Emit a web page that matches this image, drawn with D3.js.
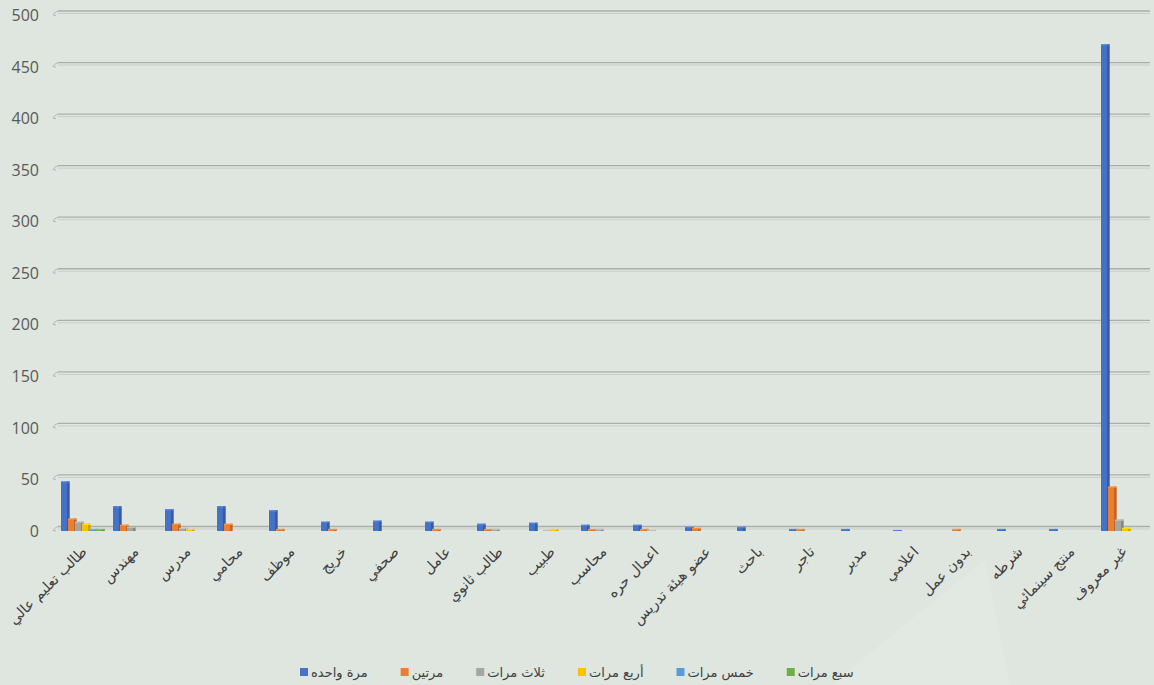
<!DOCTYPE html>
<html>
<head>
<meta charset="utf-8">
<script src="https://cdn.jsdelivr.net/npm/d3@7"></script>
<style>
  html, body { margin: 0; padding: 0; background: #dfe6e0; }
  svg { display: block; }
</style>
</head>
<body>
<svg id="chart" width="1154" height="685"></svg>
<script>
// Occupations (x axis)
const categories = [
  "طالب تعليم عالي", "مهندس", "مدرس", "محامي", "موظف", "خريج", "صحفي",
  "عامل", "طالب ثانوي", "طبيب", "محاسب", "اعمال حره", "عضو هيئة تدريس",
  "باحث", "تاجر", "مدير", "اعلامي", "بدون عمل", "شرطه", "منتج سينمائي", "غير معروف"
];

// Series names (legend)
const seriesNames = ["مرة واحده", "مرتين", "ثلاث مرات", "أربع مرات", "خمس مرات", "سبع مرات"];
const seriesColors = ["#4472c4", "#ed7d31", "#a5a5a5", "#ffc000", "#5b9bd5", "#70ad47"];

// Counts per series, one entry per occupation
const once   = [48, 24, 21, 24, 20, 9, 10, 9, 7, 8, 6, 6, 4, 4, 2, 2, 1, 0, 2, 2, 472];
const twice  = [12, 6, 7, 7, 2, 2, 0, 2, 2, 0, 2, 2, 3, 0, 2, 0, 0, 2, 0, 0, 43];
const three  = [9, 4, 3, 0, 0, 0, 0, 0, 2, 1, 2, 1, 0, 0, 0, 0, 0, 0, 0, 0, 11];
const four   = [7, 0, 2, 0, 0, 0, 0, 0, 0, 2, 0, 0, 0, 0, 0, 0, 0, 0, 0, 0, 3];
const five   = [2, 0, 0, 0, 0, 0, 0, 0, 0, 0, 0, 0, 0, 0, 0, 0, 0, 0, 0, 0, 0];
const seven  = [2, 0, 0, 0, 0, 0, 0, 0, 0, 0, 0, 0, 0, 0, 0, 0, 0, 0, 0, 0, 0];

const yTicks = [0, 50, 100, 150, 200, 250, 300, 350, 400, 450, 500];

const series = [once, twice, three, four, five, seven];

const svg = d3.select("#chart");
const W = 1154, H = 685;

svg.append("rect").attr("width", W).attr("height", H).attr("fill", "#dfe6e0");
// faint light patch in the lower right of the backdrop
svg.append("path")
  .attr("d", "M830,685 L985,560 L1010,685 Z")
  .attr("fill", "#e3e9e3").attr("opacity", 0.7);

const plotLeft = 56, plotRight = 1148;
const x = d3.scaleBand().domain(categories).range([plotLeft, plotRight])
  .paddingInner(10 / 52).paddingOuter(5 / 52);
const xs = d3.scaleBand().domain(d3.range(series.length)).range([0, x.bandwidth()]);
const y = d3.scaleLinear().domain([0, 500]).range([531, 15.5]);

const depth = 4.5; // back-wall offset for the gridlines

// gridlines (double line with small depth stroke at the left)
const grid = svg.append("g");
yTicks.forEach(v => {
  const gy = y(v) - depth;
  grid.append("line").attr("x1", 58).attr("x2", 1150).attr("y1", gy).attr("y2", gy)
    .attr("stroke", "#a9aeaa").attr("stroke-width", 1.3);
  grid.append("line").attr("x1", 58).attr("x2", 1150).attr("y1", gy + 2.5).attr("y2", gy + 2.5)
    .attr("stroke", "#c8cdc9").attr("stroke-width", 1);
  grid.append("path")
    .attr("d", `M58,${gy} L55,${gy + 1.5} L53,${gy + 4} L56,${gy + 4.5}`)
    .attr("fill", "none").attr("stroke", "#b3b8b4").attr("stroke-width", 1);
});

// y axis labels
const yAxis = d3.axisLeft(y).tickValues(yTicks).tickSize(0).tickPadding(0);
const yg = svg.append("g").attr("transform", "translate(39,0)").call(yAxis);
yg.select(".domain").remove();
yg.selectAll("text")
  .attr("font-family", "'Open Sans', 'Liberation Sans', sans-serif")
  .attr("font-size", 16).attr("fill", "#595959");

// bars
const bars = svg.append("g");
categories.forEach((c, ci) => {
  series.forEach((s, si) => {
    const v = s[ci];
    if (!v) return;
    const bx = x(c) + xs(si);
    const bw = xs.bandwidth() + 1.5;
    const top = y(v);
    const h = y(0) - top;
    const col = d3.color(seriesColors[si]);
    bars.append("rect").attr("x", bx).attr("y", top).attr("width", bw).attr("height", h)
      .attr("fill", col.formatHex());
    bars.append("rect").attr("x", bx + bw - 2.5).attr("y", top).attr("width", 2.5).attr("height", h)
      .attr("fill", col.darker(0.6).formatHex());
    bars.append("rect").attr("x", bx).attr("y", top).attr("width", bw).attr("height", Math.min(1.2, h))
      .attr("fill", col.brighter(0.4).formatHex());
  });
});

// x axis labels, rotated
const xl = svg.append("g");
categories.forEach(c => {
  const cx = x(c) + x.bandwidth() / 2;
  xl.append("text")
    .attr("transform", `translate(${cx + 2},${549}) rotate(-45)`)
    .attr("text-anchor", "end")
    .attr("dy", "0.35em")
    .attr("font-family", "'DejaVu Sans', sans-serif")
    .attr("font-size", 14.5)
    .attr("fill", "#404040")
    .text(c);
});

// legend
const lg = svg.append("g");
const legendY = 672;
let lx = 300;
seriesNames.forEach((n, i) => {
  lg.append("rect").attr("x", lx).attr("y", legendY - 4).attr("width", 8).attr("height", 8)
    .attr("fill", seriesColors[i]);
  const t = lg.append("text").attr("x", lx + 11).attr("y", legendY).attr("dy", "0.35em")
    .attr("font-family", "'DejaVu Sans', sans-serif").attr("font-size", 13)
    .attr("fill", "#404040").text(n);
  const w = t.node().getComputedTextLength();
  lx += 11 + w + 33;
});
</script>
</body>
</html>
